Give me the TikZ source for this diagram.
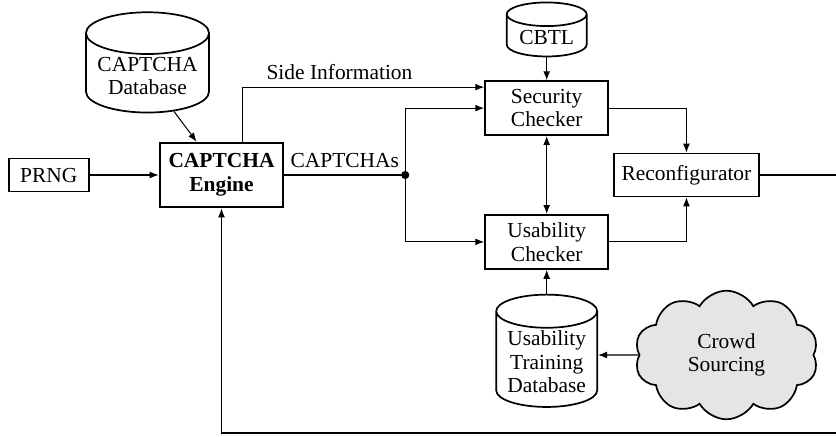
\documentclass[tikz,border=0pt]{standalone}
\usepackage{fontspec}
\setmainfont{Liberation Serif}
\usepackage{tikz}
\usetikzlibrary{positioning, shapes.geometric, shapes.symbols}
\usetikzlibrary{calc,arrows.meta}

\begin{document}
\begin{tikzpicture}[->, >={Latex[length=4.2pt,width=3.2pt]}, line width=0.5pt,
node distance = 6mm and 24mm,
every node/.style = {font=\fontsize{10pt}{11pt}\selectfont, align=center},
block/.style = {rectangle, draw=black, line width=0.8pt,
	minimum width=#1, minimum height=25.2pt, inner sep=1pt},
block/.default = 57.4pt,
database/.style = {cylinder, shape border rotate=90, draw=black,
	line width=0.8pt, aspect=0.4, inner sep=1pt},
cloudy/.style = {cloud, cloud puffs=10, cloud puff arc=120, cloud ignores aspect,
	draw=black, line width=0.8pt, fill=black!10, inner sep=1pt,
	minimum width=85.7pt, minimum height=60pt}
]
\useasboundingbox (0,0) rectangle (390pt,-203.86pt);
% Draw the engine and its inputs
\node[block=57.4pt, line width=1.2pt, minimum height=29.9pt,
font=\fontsize{10pt}{11pt}\selectfont\bfseries] (Eng) at (103.33pt,-81.64pt) {CAPTCHA\\Engine};
\node[block=37.3pt, minimum height=15.4pt, left=32.2pt of Eng] (PRNG) {PRNG};
\node[database, minimum width=57.4pt, minimum height=43.9pt] (DB-1) at (68.81pt,-35.45pt) {CAPTCHA\\Database};
% Draw the checkers and their databases
\coordinate[right=56.4pt of Eng.east] (S);
\node[block, above right=18.2pt and 36.9pt of S] (Chk-1) {Security\\Checker};
\node[block, below right=18.2pt and 36.9pt of S] (Chk-2) {Usability\\Checker};
\node[database, minimum width=37.3pt, minimum height=25.2pt, above=10.7pt of Chk-1] (DB-2) {CBTL};
\node[database, minimum width=47.1pt, minimum height=51.3pt, below=11.2pt of Chk-2] (DB-3) {Usability\\Training\\Database};
\node[cloudy] (Crowd) at (338.9pt,-165.6pt) {Crowd\\Sourcing};
% Draw the reconfigurator
\node[block=67.6pt, minimum height=20pt, right=97pt of S] (Rec) {Reconfigurator};
\coordinate (L) at (395pt,-202pt);

% Connect the engine with the checkers and
%  the checkers with the reconfigurator
\path (PRNG) edge (Eng)
(DB-1) edge (Eng)
(DB-2) edge (Chk-1)
(DB-3) edge (Chk-2);
\draw ([xshift=10pt]Eng.north) |- ([yshift=9.8pt]Chk-1.west)
node[pos=0.7, above] {Side Information};
\draw[-] (Eng) -- (S) node[midway, above] {CAPTCHAs};
\fill[-] (S) circle (1.9pt);
\draw (S) |- (Chk-1);
\draw (S) |- (Chk-2);
\draw[<->] (Chk-1) -- (Chk-2);
\draw (Crowd) -- (Crowd -| DB-3.east);
\draw (Chk-1) -| (Rec);
\draw (Chk-2) -| (Rec);
\draw (Rec) -| (L) -| (Eng);
\end{tikzpicture}
\end{document}
